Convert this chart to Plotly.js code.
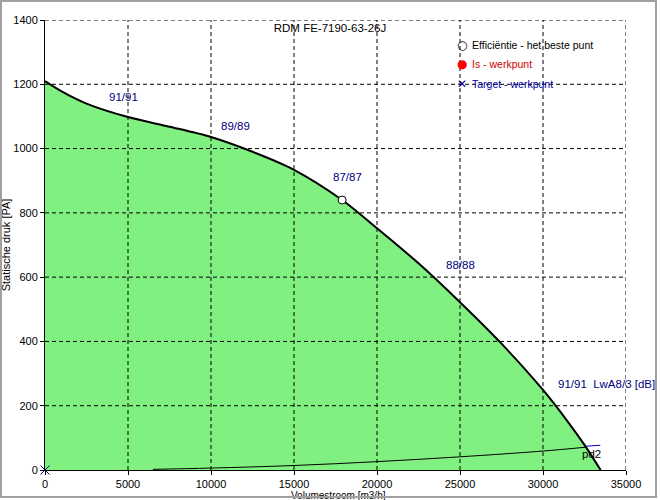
<!DOCTYPE html>
<html>
<head>
<meta charset="utf-8">
<script src="https://cdn.plot.ly/plotly-3.0.1.min.js"></script>
<style>
  html, body { margin: 0; padding: 0; background: #fff; }
  #chart { width: 660px; height: 500px; position: absolute; left: 0; top: 0; }
  #frame { position: absolute; left: 0; top: 0; width: 653px; height: 494px;
           border: 2px solid #a0a0a0; pointer-events: none; }
</style>
</head>
<body>
<div id="chart"></div>
<div id="frame"></div>
<script>
// Fan curve (Volumestroom m3/h vs Statische druk Pa)
const fanFlow = [0, 1000, 2500, 5000, 7500, 10000, 12500, 15000, 17900, 20000, 22500, 25000, 27500, 30000, 31500, 32500, 33470];
const fanPressure = [1210, 1178, 1140, 1098, 1068, 1036, 990, 934, 840, 752, 643, 522, 393, 249, 150, 78, 0];

// Dynamic pressure curve pd2
const pdFlow = [6500, 10000, 15000, 20000, 25000, 30000, 32600];
const pdPressure = [2, 6, 14, 26, 41, 59, 71];
const pdEndFlow = [32600, 33450];
const pdEndPressure = [74, 77];

// Best efficiency point and target point
const bestFlow = [17900];
const bestPressure = [840];
const targetFlow = [0];
const targetPressure = [0];

// Sound level labels along the curve
const soundText = ['91/91', '89/89', '87/87', '88/88'];
const soundFlow = [4750, 11500, 18250, 25000];
const soundPressure = [1160, 1070, 911, 638];

const xTicks = [0, 5000, 10000, 15000, 20000, 25000, 30000, 35000];
const yTicks = [0, 200, 400, 600, 800, 1000, 1200, 1400];

const chartTitle = 'RDM FE-7190-63-26J';
const xTitle = 'Volumestroom [m3/h]';
const yTitle = 'Statische druk [PA]';
const legendText = ['Efficiëntie - het beste punt', 'Is - werkpunt', 'Target - werkpunt'];

const FONT = '"Liberation Sans", Arial, sans-serif';
const NAVY = '#000080';
const GRID_DASH = '4px,3px';

const traces = [
  {
    x: fanFlow, y: fanPressure, type: 'scatter', mode: 'lines',
    fill: 'tozeroy', fillcolor: 'rgb(128,240,128)',
    line: { color: '#000', width: 2, shape: 'spline', smoothing: 0.8 },
    showlegend: false
  },
  {
    x: pdFlow, y: pdPressure, type: 'scatter', mode: 'lines',
    line: { color: '#000', width: 1, shape: 'spline' }, showlegend: false
  },
  {
    x: pdEndFlow, y: pdEndPressure, type: 'scatter', mode: 'lines',
    line: { color: '#0000c0', width: 1 }, showlegend: false
  },
  {
    x: bestFlow, y: bestPressure, type: 'scatter', mode: 'markers',
    marker: { symbol: 'circle', size: 8, color: '#fff', line: { color: '#000', width: 1 } },
    showlegend: false
  },
  {
    x: targetFlow, y: targetPressure, type: 'scatter', mode: 'markers',
    marker: { symbol: 'x-thin-open', size: 9, color: NAVY, line: { color: NAVY, width: 1 } },
    showlegend: false, cliponaxis: false
  }
];

// dashed grid drawn above the filled area, built from the tick values
const shapes = [];
xTicks.slice(1).forEach(v => shapes.push({
  type: 'line', xref: 'x', yref: 'y', x0: v, x1: v, y0: yTicks[0], y1: yTicks[yTicks.length - 1],
  line: { color: '#000', width: 1, dash: GRID_DASH }, layer: 'above'
}));
yTicks.slice(1).forEach(v => shapes.push({
  type: 'line', xref: 'x', yref: 'y', y0: v, y1: v, x0: xTicks[0], x1: xTicks[xTicks.length - 1],
  line: { color: '#000', width: 1, dash: GRID_DASH }, layer: 'above'
}));

const annotations = soundText.map((t, i) => ({
  x: soundFlow[i], y: soundPressure[i], xref: 'x', yref: 'y',
  text: t, showarrow: false, xanchor: 'center', yanchor: 'middle',
  font: { family: FONT, size: 11.5, color: NAVY }
}));
annotations.push({
  x: 30780, y: 267, xref: 'x', yref: 'y', text: '91/91&nbsp;&nbsp;LwA8/3 [dB]',
  showarrow: false, xanchor: 'left', yanchor: 'middle',
  font: { family: FONT, size: 11.5, color: NAVY }
});
annotations.push({
  x: 32950, y: 50, xref: 'x', yref: 'y', text: 'pd2',
  showarrow: false, xanchor: 'center', yanchor: 'middle',
  font: { family: FONT, size: 11.5, color: '#000' }
});
// x-axis title, tucked just under the tick labels
annotations.push({
  x: 0.506, y: 0, xref: 'paper', yref: 'paper', text: xTitle,
  showarrow: false, xanchor: 'center', yanchor: 'top', yshift: -19,
  borderpad: 0, font: { family: FONT, size: 10, color: '#000' }
});

// legend block
const legendColors = ['#000', '#d00000', '#0000a0'];
const legendSymbols = ['○', '●', '✕'];
const legendSymColors = ['#000', '#ff0000', NAVY];
const legendY = [0.944, 0.902, 0.858];
legendText.forEach((t, i) => {
  annotations.push({
    x: 0.7177, y: legendY[i], xref: 'paper', yref: 'paper', text: legendSymbols[i],
    showarrow: false, xanchor: 'center', yanchor: 'middle',
    font: { family: 'DejaVu Sans', size: 12, color: legendSymColors[i] }
  });
  annotations.push({
    x: 0.7315, y: legendY[i], xref: 'paper', yref: 'paper', text: t,
    showarrow: false, xanchor: 'left', yanchor: 'middle',
    font: { family: FONT, size: 10.5, color: legendColors[i] }
  });
});

const axisCommon = {
  showgrid: false,
  showline: true, linecolor: '#000', linewidth: 1,
  ticks: 'outside', ticklen: 4, tickcolor: '#000', tickwidth: 1,
  zeroline: false, tickfont: { family: FONT, size: 11, color: '#000' },
  automargin: false, fixedrange: true
};

const layout = {
  width: 660, height: 500,
  margin: { l: 45, r: 34, t: 20, b: 30 },
  paper_bgcolor: '#fff', plot_bgcolor: '#fff',
  showlegend: false,
  title: {
    text: chartTitle, x: 0.5, xanchor: 'center', y: 1 - 28 / 500, yanchor: 'middle',
    font: { family: FONT, size: 11.5, color: '#000' }
  },
  xaxis: Object.assign({}, axisCommon, {
    range: [0, 35000], tickvals: xTicks, ticktext: xTicks.map(String)
  }),
  yaxis: Object.assign({}, axisCommon, {
    range: [0, 1400], tickvals: yTicks, ticktext: yTicks.map(String),
    title: { text: yTitle, standoff: 8, font: { family: FONT, size: 11, color: '#000' } }
  }),
  shapes: shapes,
  annotations: annotations
};

Plotly.newPlot('chart', traces, layout, { displayModeBar: false, staticPlot: true });
</script>
</body>
</html>
